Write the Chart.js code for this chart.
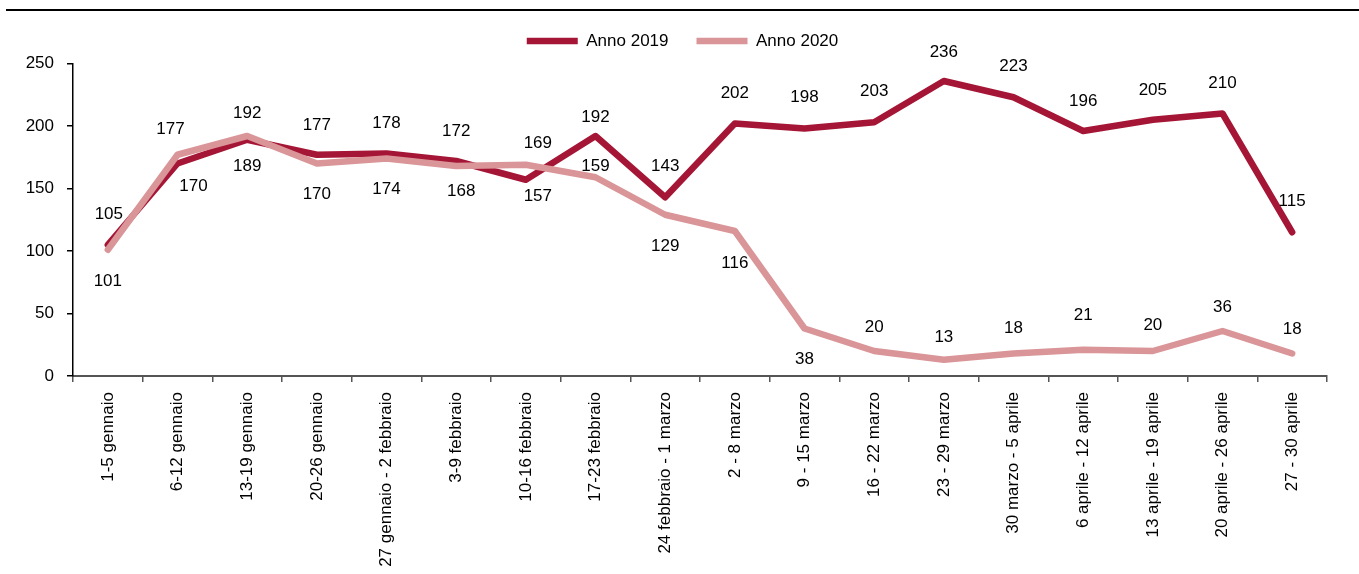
<!DOCTYPE html>
<html lang="it">
<head>
<meta charset="utf-8">
<title>Anno 2019 / Anno 2020</title>
<script src="https://cdn.jsdelivr.net/npm/chart.js@4/dist/chart.umd.min.js"></script>
<style>
  html, body { margin: 0; padding: 0; background: #fff; }
  #wrap { position: relative; width: 1359px; height: 574px; }
  #rule { position: absolute; top: 9px; left: 6px; right: 0; border-top: 2px solid #000; }
  #chart { position: absolute; left: 0; top: 0; }
</style>
</head>
<body>
<div id="wrap">
  <canvas id="chart" width="1359" height="574"></canvas>
  <div id="rule"></div>
</div>
<script>
// ─ dati
const weeks = [
    '1-5 gennaio', '6-12 gennaio', '13-19 gennaio', '20-26 gennaio',
    '27 gennaio - 2 febbraio', '3-9 febbraio', '10-16 febbraio', '17-23 febbraio',
    '24 febbraio - 1 marzo', '2 - 8 marzo', '9 - 15 marzo', '16 - 22 marzo',
    '23 - 29 marzo', '30 marzo - 5 aprile', '6 aprile - 12 aprile',
    '13 aprile - 19 aprile', '20 aprile - 26 aprile', '27 - 30 aprile'
];
const anno2019 = [105, 170, 189, 177, 178, 172, 157, 192, 143, 202, 198, 203, 236, 223, 196, 205, 210, 115];
const anno2020 = [101, 177, 192, 170, 174, 168, 169, 159, 129, 116, 38, 20, 13, 18, 21, 20, 36, 18];
const yTicks = [0, 50, 100, 150, 200, 250];

// posizione delle etichette rispetto al punto (px)
const lblDy2019 = [-30, 23, 27, -29, -30, -30, 17, -19, -31, -30, -31, -31, -29, -31, -30, -29, -30, -31];
const lblDx2019 = [1, 16, 0, 0, 0, 0, 12, 0, 0, 0, 0, 0, 0, 0, 0, 0, 0, 0];
const lblDy2020 = [32, -25, -23, 31, 31, 25, -21, -11, 32, 32, 31, -24, -22, -25, -34, -26, -24, -24];
const lblDx2020 = [0, -7, 0, 0, 0, 5, 12, 0, 0, 0, 0, 0, 0, 0, 0, 0, 0, 0];

const FONT = '"Liberation Sans", Arial, sans-serif';
const DARK = '#a51535';
const LIGHT = '#d99597';
const LEGEND_SHIFT = 19;

// ─ etichette dei valori
const valueLabels = {
    id: 'valueLabels',
    afterDatasetsDraw(chart) {
        const ctx = chart.ctx;
        ctx.save();
        ctx.font = '17px ' + FONT;
        ctx.fillStyle = '#000';
        ctx.textAlign = 'center';
        ctx.textBaseline = 'middle';
        chart.data.datasets.forEach((ds, di) => {
            const meta = chart.getDatasetMeta(di);
            meta.data.forEach((pt, i) => {
                ctx.fillText(String(ds.data[i]), pt.x + ds.lblDx[i], pt.y + ds.lblDy[i]);
            });
        });
        ctx.restore();
    }
};

// ─ legenda: spazio extra sotto e piccolo spostamento a destra
const legendTweak = {
    id: 'legendTweak',
    afterInit(chart) {
        const lg = chart.legend;
        if (!lg) return;
        const fit = lg.fit;
        lg.fit = function () { fit.call(this); this.height += 4; };
    },
    afterLayout(chart) {
        const lg = chart.legend;
        if (!lg) return;
        lg.left += LEGEND_SHIFT;
        lg.right += LEGEND_SHIFT;
    }
};

new Chart(document.getElementById('chart'), {
    type: 'line',
    data: {
        labels: weeks,
        datasets: [
            {
                label: 'Anno 2019', data: anno2019,
                borderColor: DARK, backgroundColor: DARK,
                borderWidth: 6.5, borderCapStyle: 'round', borderJoinStyle: 'round',
                pointRadius: 0, tension: 0, order: 2, clip: false,
                lblDx: lblDx2019, lblDy: lblDy2019
            },
            {
                label: 'Anno 2020', data: anno2020,
                borderColor: LIGHT, backgroundColor: LIGHT,
                borderWidth: 6.5, borderCapStyle: 'round', borderJoinStyle: 'round',
                pointRadius: 0, tension: 0, order: 1, clip: false,
                lblDx: lblDx2020, lblDy: lblDy2020
            }
        ]
    },
    options: {
        responsive: false,
        animation: false,
        layout: { padding: { top: 4.5, left: 0, right: 32, bottom: 0 } },
        plugins: {
            legend: {
                position: 'top',
                labels: {
                    usePointStyle: true,
                    pointStyle: 'line',
                    pointStyleWidth: 51,
                    padding: 28,
                    color: '#000',
                    font: { family: FONT, size: 17 },
                    sort: (a, b) => a.datasetIndex - b.datasetIndex
                }
            },
            tooltip: { enabled: false }
        },
        scales: {
            x: {
                offset: true,
                afterFit: axis => { axis.height = 198; },
                grid: { display: true, drawOnChartArea: false, offset: true, tickLength: 6, color: '#555', lineWidth: 1.5 },
                border: { display: true, color: '#555', width: 2 },
                ticks: {
                    autoSkip: false, maxRotation: 90, minRotation: 90, padding: 10,
                    color: '#000', font: { family: FONT, size: 17 }
                }
            },
            y: {
                min: 0, max: 250,
                afterFit: axis => { axis.width = 73; },
                afterBuildTicks: axis => { axis.ticks = yTicks.map(v => ({ value: v })); },
                grid: { display: true, drawOnChartArea: false, tickLength: 6, color: '#000', lineWidth: 1.5 },
                border: { display: true, color: '#000', width: 1.5 },
                ticks: { padding: 13, color: '#000', font: { family: FONT, size: 17 } }
            }
        }
    },
    plugins: [valueLabels, legendTweak]
});
</script>
</body>
</html>
